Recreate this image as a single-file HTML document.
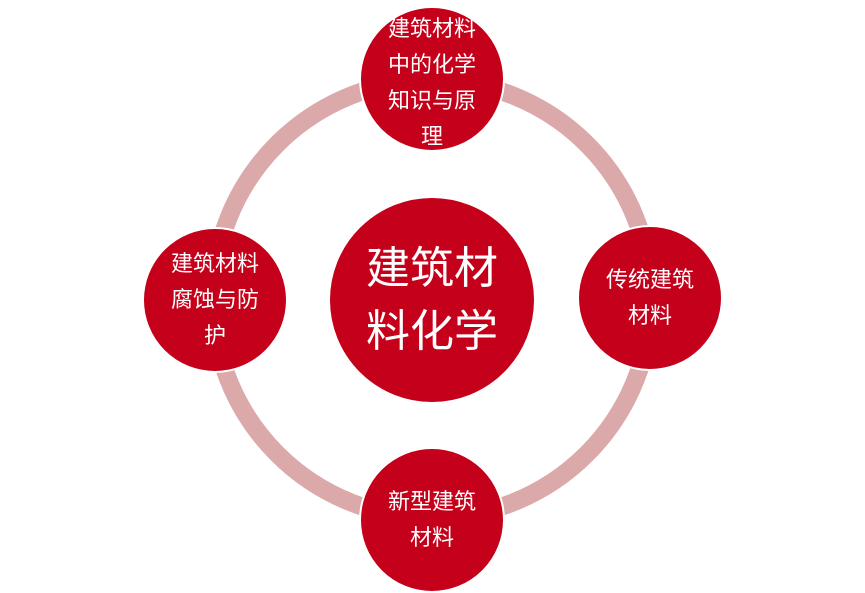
<!DOCTYPE html>
<html><head><meta charset="utf-8"><style>
html,body{margin:0;padding:0;background:#fff;}
body{width:865px;height:592px;overflow:hidden;position:relative;font-family:"Liberation Sans","Noto Sans CJK SC",sans-serif;}
.c{position:absolute;border-radius:50%;background:#c5001a;border:2px solid #fff;box-sizing:border-box;color:#fff;display:flex;align-items:center;justify-content:center;text-align:center;}
.s{width:146px;height:146px;font-size:22px;line-height:36px;}
.s span{display:block;width:100px;}
</style></head><body>
<svg width="865" height="592" style="position:absolute;left:0;top:0">
<circle cx="432" cy="299" r="219" fill="none" stroke="#dba9aa" stroke-width="18"/>
</svg>
<div class="c" style="left:328px;top:196px;width:208px;height:208px;font-size:44px;line-height:63px;"><span style="width:140px;display:block">建筑材料化学</span></div>
<div class="c s" style="left:359px;top:6px;"><span style="margin-top:8px">建筑材料中的化学知识与原理</span></div>
<div class="c s" style="left:142px;top:227px;"><span>建筑材料腐蚀与防护</span></div>
<div class="c s" style="left:577px;top:225px;"><span>传统建筑材料</span></div>
<div class="c s" style="left:359px;top:447px;"><span>新型建筑材料</span></div>
</body></html>
